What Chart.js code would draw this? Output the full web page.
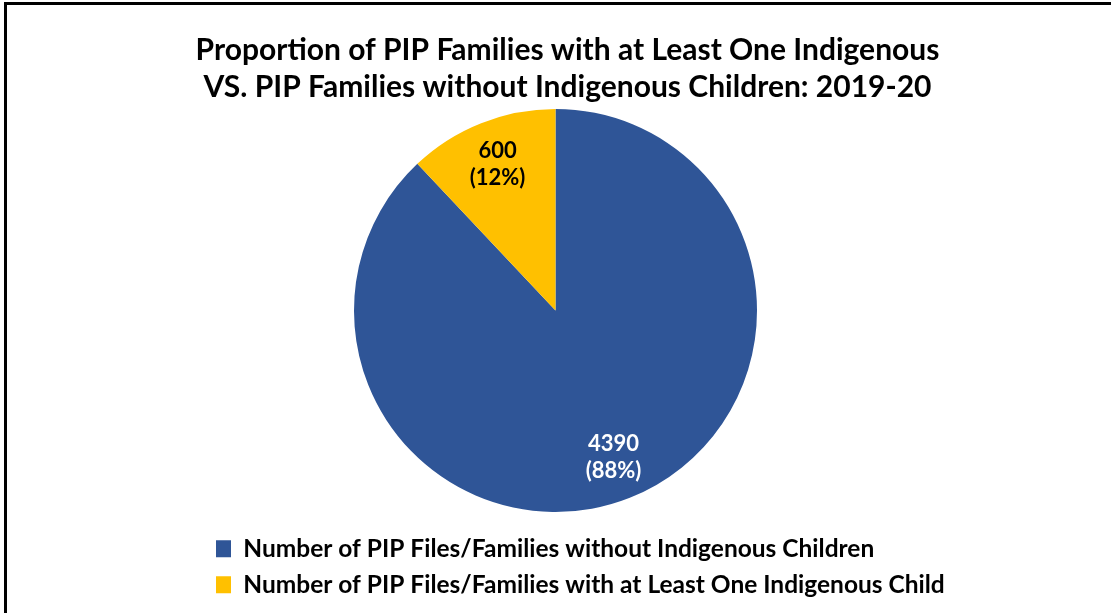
<!DOCTYPE html>
<html>
<head>
<meta charset="utf-8">
<script src="https://cdn.jsdelivr.net/npm/chart.js@4"></script>
<style>
  body { margin: 0; overflow: hidden; background: #fff; }
  #wrap { position: relative; width: 1111px; height: 613px; }
  #frame {
    position: absolute; left: 4px; top: 2px; width: 1200px; height: 700px;
    border-left: 3px solid #000; border-top: 3px solid #000; pointer-events: none;
  }
</style>
</head>
<body>
<div id="wrap">
  <canvas id="chart" width="1111" height="613"></canvas>
  <div id="frame"></div>
</div>
<script>
// chart data
const categories = [
  "Number of PIP Files/Families without Indigenous Children",
  "Number of PIP Files/Families with at Least One Indigenous Child",
];
const familyCounts = [4390, 600];
const sliceColors = ["#2F5597", "#FFC000"];
const labelColors = ["#ffffff", "#000000"];
const titleLines = [
  "Proportion of PIP Families with at Least One Indigenous",
  "VS. PIP Families without Indigenous Children: 2019-20",
];

// value + percent labels inside each slice
const sliceLabels = {
  id: "sliceLabels",
  afterDatasetsDraw(chart) {
    const ctx = chart.ctx;
    const data = chart.data.datasets[0].data;
    const total = data.reduce((a, b) => a + b, 0);
    chart.getDatasetMeta(0).data.forEach((arc, i) => {
      const { x, y, startAngle, endAngle, outerRadius } = arc.getProps(
        ["x", "y", "startAngle", "endAngle", "outerRadius"], true);
      const mid = (startAngle + endAngle) / 2;
      const d = outerRadius * 0.78;
      const lx = x + Math.cos(mid) * d;
      const ly = y + Math.sin(mid) * d;
      const pct = Math.round((data[i] / total) * 100);
      ctx.save();
      ctx.font = "bold 22px Lato";
      ctx.fillStyle = labelColors[i];
      ctx.textAlign = "center";
      ctx.textBaseline = "middle";
      ctx.fillText(String(data[i]), lx, ly - 13);
      ctx.fillText("(" + pct + "%)", lx, ly + 14);
      ctx.restore();
    });
  },
};

// legend rows are left-aligned under the pie, title sits a bit right of centre
const boxShift = {
  id: "boxShift",
  afterLayout(chart) {
    const lg = chart.legend;
    lg.left = 204.5;
    lg.width = lg.right - lg.left;
    const tb = chart.titleBlock;
    tb.left = 24;
    tb.width = tb.right - tb.left;
  },
};

Chart.defaults.font.family = "Lato";
Chart.defaults.color = "#000";

const ctx = document.getElementById("chart").getContext("2d");
const chart = new Chart(ctx, {
  type: "pie",
  data: {
    labels: categories,
    datasets: [
      {
        data: familyCounts,
        backgroundColor: sliceColors,
        borderWidth: 0,
      },
    ],
  },
  options: {
    responsive: false,
    animation: false,
    devicePixelRatio: 1,
    layout: {
      padding: { top: 30, bottom: 6, left: 0, right: 0 },
    },
    plugins: {
      title: {
        display: true,
        text: titleLines,
        color: "#000",
        font: { size: 30, weight: "bold", lineHeight: 1.233 },
        padding: { top: 2, bottom: 3 },
      },
      legend: {
        position: "bottom",
        align: "start",
        title: {
          display: true,
          text: "",
          font: { size: 13, lineHeight: 1 },
          padding: 0,
        },
        labels: {
          boxWidth: 15,
          boxHeight: 17,
          padding: 11.5,
          color: "#000",
          font: { size: 24.5, weight: "bold" },
        },
      },
      tooltip: { enabled: false },
    },
  },
  plugins: [sliceLabels, boxShift],
});
</script>
</body>
</html>
